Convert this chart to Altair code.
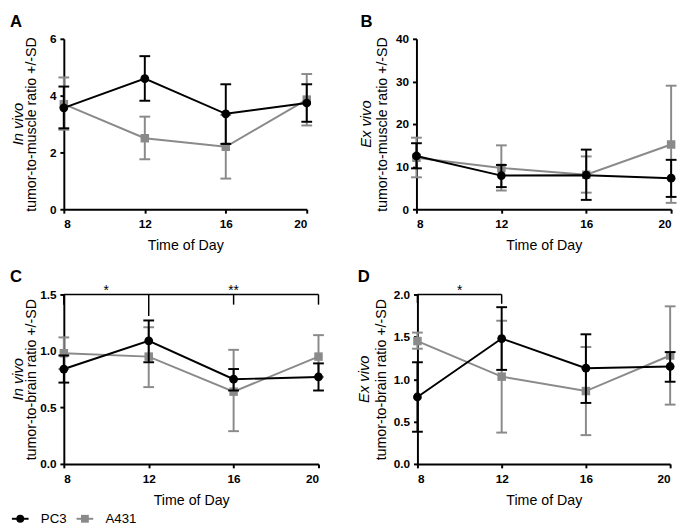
import altair as alt
import pandas as pd

hours = [8, 12, 16, 20]
series = ["PC3", "A431"]
colors = ["#000000", "#8a8a8a"]
shapes = ["circle", "square"]

# Panel A - In vivo tumor-to-muscle ratio
a_pc3 = [3.57, 4.60, 3.36, 3.74]
a_pc3_lo = [2.85, 3.82, 2.30, 3.08]
a_pc3_hi = [4.32, 5.39, 4.40, 4.40]
a_a431 = [3.70, 2.50, 2.20, 3.86]
a_a431_lo = [2.80, 1.76, 1.08, 2.95]
a_a431_hi = [4.64, 3.26, 3.32, 4.76]

# Panel B - Ex vivo tumor-to-muscle ratio
b_pc3 = [12.5, 7.9, 8.0, 7.3]
b_pc3_lo = [9.6, 5.2, 2.2, 2.9]
b_pc3_hi = [15.5, 10.4, 14.0, 11.6]
b_a431 = [12.1, 9.7, 8.1, 15.2]
b_a431_lo = [7.5, 4.4, 3.9, 1.5]
b_a431_hi = [16.8, 15.0, 12.4, 29.0]

# Panel C - In vivo tumor-to-brain ratio
c_pc3 = [0.84, 1.09, 0.75, 0.77]
c_pc3_lo = [0.72, 0.90, 0.65, 0.65]
c_pc3_hi = [0.96, 1.27, 0.84, 0.89]
c_a431 = [0.98, 0.95, 0.64, 0.95]
c_a431_lo = [0.84, 0.68, 0.29, 0.77]
c_a431_hi = [1.12, 1.21, 1.01, 1.14]

# Panel D - Ex vivo tumor-to-brain ratio
d_pc3 = [0.79, 1.48, 1.13, 1.15]
d_pc3_lo = [0.38, 1.11, 0.72, 0.97]
d_pc3_hi = [1.20, 1.85, 1.53, 1.32]
d_a431 = [1.45, 1.03, 0.86, 1.28]
d_a431_lo = [1.36, 0.37, 0.34, 0.70]
d_a431_hi = [1.55, 1.69, 1.38, 1.86]

# Significance brackets
c_bracket_span = [8, 20]
c_bracket_level = 1.5
c_bracket_ticks_x = [8, 12, 16, 20]
c_bracket_ticks_end = [1.41, 1.31, 1.41, 1.41]
c_star_x = [10, 16]
c_star_text = ["*", "**"]

d_bracket_span = [8, 12]
d_bracket_level = 2.0
d_bracket_ticks_x = [8, 12]
d_bracket_ticks_end = [1.90, 1.89]
d_star_x = [10]
d_star_text = ["*"]

FONT = "Liberation Sans"


def make_df(pc3, pc3_lo, pc3_hi, a431, a431_lo, a431_hi):
    rows = []
    for s, v, lo, hi in [("A431", a431, a431_lo, a431_hi), ("PC3", pc3, pc3_lo, pc3_hi)]:
        for h, vv, ll, hh in zip(hours, v, lo, hi):
            rows.append({"hour": h, "series": s, "val": vv, "lo": ll, "hi": hh})
    return pd.DataFrame(rows)


def one(t=""):
    return alt.Chart(pd.DataFrame({"t": [t]}))


def panel(letter, df, ymax, yticks, yfmt, ytitle, italic, W, H, title_x, italic_x, letter_dx, letter_dy,
          bracket=None, legend_at=None):
    xs = alt.Scale(domain=[8, 20], nice=False, zero=False)
    ys = alt.Scale(domain=[0, ymax], nice=False)
    xax = alt.Axis(values=hours, title="Time of Day", labelPadding=6, titleY=30, titleBaseline="top")
    yax = alt.Axis(values=yticks, format=yfmt, title=ytitle, labelPadding=4,
                   titleX=title_x, titleBaseline="alphabetic")
    layers = []
    for s, c, shp in [("A431", colors[1], shapes[1]), ("PC3", colors[0], shapes[0])]:
        base = alt.Chart(df).transform_filter(alt.datum.series == s)
        x = alt.X("hour:Q", scale=xs, axis=xax)
        layers.append(base.mark_rule(color=c, strokeWidth=2).encode(
            x=x, y=alt.Y("lo:Q", scale=ys, axis=yax), y2="hi:Q"))
        for f in ["lo", "hi"]:
            layers.append(base.mark_tick(color=c, thickness=2, size=11, orient="horizontal", opacity=1).encode(
                x=x, y=alt.Y(f + ":Q", scale=ys, axis=yax)))
        layers.append(base.mark_line(color=c, strokeWidth=2).encode(
            x=x, y=alt.Y("val:Q", scale=ys, axis=yax)))
        layers.append(base.mark_point(color=c, filled=True, opacity=1, shape=shp,
                                      size=80 if shp == "circle" else 75).encode(
            x=x, y=alt.Y("val:Q", scale=ys, axis=yax)))
    if bracket is not None:
        span, level, tx, tend, sx, st = bracket
        bdf = pd.DataFrame({"x1": [span[0]], "x2": [span[1]], "y": [level]})
        layers.append(alt.Chart(bdf).mark_rule(color="black", strokeWidth=1.5).encode(
            x=alt.X("x1:Q", scale=xs, axis=xax), x2="x2:Q", y=alt.Y("y:Q", scale=ys, axis=yax)))
        tdf = pd.DataFrame({"x": tx, "y": [level] * len(tx), "y2": tend})
        layers.append(alt.Chart(tdf).mark_rule(color="black", strokeWidth=1.5).encode(
            x=alt.X("x:Q", scale=xs, axis=xax), y=alt.Y("y:Q", scale=ys, axis=yax), y2="y2:Q"))
        sdf = pd.DataFrame({"x": sx, "y": [level] * len(sx), "t": st})
        layers.append(alt.Chart(sdf).mark_text(font=FONT, fontSize=14, baseline="alphabetic", dy=1,
                                               color="black").encode(
            x=alt.X("x:Q", scale=xs, axis=xax), y=alt.Y("y:Q", scale=ys, axis=yax), text="t:N"))
    layers.append(one(italic).mark_text(font=FONT, fontSize=15, fontStyle="italic", angle=270,
                                        baseline="top", align="center", color="black").encode(
        x=alt.value(italic_x), y=alt.value(H / 2), text="t:N"))
    layers.append(one(letter).mark_text(font=FONT, fontSize=17, fontWeight="bold",
                                        baseline="top", align="left", color="black").encode(
        x=alt.value(letter_dx), y=alt.value(letter_dy), text="t:N"))
    if legend_at is not None:
        lx0, ly0, step = legend_at
        for i, (s, c, shp) in enumerate(zip(series, colors, shapes)):
            cx = lx0 + i * step
            layers.append(one(s).mark_point(shape="stroke", size=289, strokeWidth=2, opacity=1, color=c).encode(
                x=alt.value(cx), y=alt.value(ly0)))
            layers.append(one(s).mark_point(shape=shp, filled=True, size=64, opacity=1, color=c).encode(
                x=alt.value(cx), y=alt.value(ly0)))
            layers.append(one(s).mark_text(font=FONT, fontSize=13.5, align="left", baseline="middle",
                                           dx=21, color="black").encode(
                x=alt.value(cx), y=alt.value(ly0), text="t:N"))
    return alt.layer(*layers).properties(width=W, height=H)


dfA = make_df(a_pc3, a_pc3_lo, a_pc3_hi, a_a431, a_a431_lo, a_a431_hi)
dfB = make_df(b_pc3, b_pc3_lo, b_pc3_hi, b_a431, b_a431_lo, b_a431_hi)
dfC = make_df(c_pc3, c_pc3_lo, c_pc3_hi, c_a431, c_a431_lo, c_a431_hi)
dfD = make_df(d_pc3, d_pc3_lo, d_pc3_hi, d_a431, d_a431_lo, d_a431_hi)

pA = panel("A", dfA, 6, [0, 2, 4, 6], "d", "tumor-to-muscle ratio +/-SD", "In vivo",
           248, 174, -29, -53.5, -55, -25)
pB = panel("B", dfB, 40, [0, 10, 20, 30, 40], "d", "tumor-to-muscle ratio +/-SD", "Ex vivo",
           260, 174, -31, -58.5, -57, -25)
pC = panel("C", dfC, 1.5, [0, 0.5, 1.0, 1.5], ".1f", "tumor-to-brain ratio +/-SD", "In vivo",
           260, 173, -29, -53.5, -55, -26,
           (c_bracket_span, c_bracket_level, c_bracket_ticks_x, c_bracket_ticks_end, c_star_x, c_star_text),
           legend_at=(-44.5, 229, 66))
pD = panel("D", dfD, 2.0, [0, 0.5, 1.0, 1.5, 2.0], ".1f", "tumor-to-brain ratio +/-SD", "Ex vivo",
           258, 173, -33, -61.5, -61, -26,
           (d_bracket_span, d_bracket_level, d_bracket_ticks_x, d_bracket_ticks_end, d_star_x, d_star_text))

row1 = alt.hconcat(pA, pB, spacing=47)
row2 = alt.hconcat(pC, pD, spacing=33)
chart = alt.concat(row1, row2, columns=1, spacing=16, align="none").properties(
    padding={"left": 0, "top": 0, "right": 0, "bottom": 0}
).configure_view(stroke=None).configure_axis(
    labelFont=FONT, labelFontSize=12, labelFontWeight="bold", labelColor="black",
    titleFont=FONT, titleFontSize=14.5, titleFontWeight="normal", titleColor="black",
    domainColor="black", domainWidth=2, tickColor="black", tickWidth=2, tickSize=4,
    grid=False
)

chart.save("out.html", embed_options={"renderer": "svg", "actions": False})
